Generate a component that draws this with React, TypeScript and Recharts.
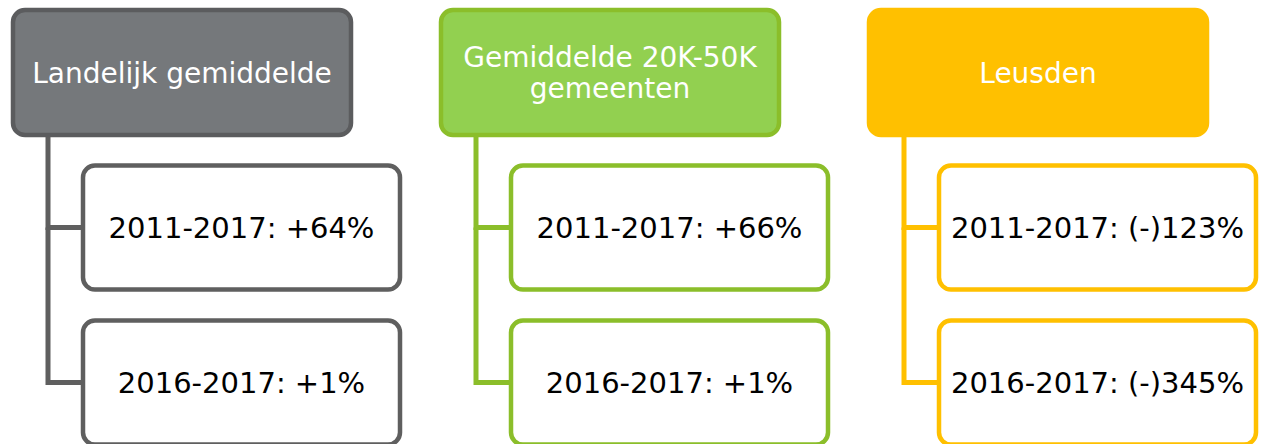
import { ScatterChart, Scatter, XAxis, YAxis } from "recharts";

const groups = ["Landelijk gemiddelde", "Gemiddelde 20K-50K gemeenten", "Leusden"];
const periods = ["2011-2017", "2016-2017"];
const change2011_2017 = ["+64%", "+66%", "(-)123%"];
const change2016_2017 = ["+1%", "+1%", "(-)345%"];

const FONT = "'DejaVu Sans', Verdana, sans-serif";

// per-group colours: header fill, header border, child border/connector
const palette = [
  { fill: "#75787B", border: "#5B5C5E", line: "#5F5F5F" },
  { fill: "#92D050", border: "#8BBE2A", line: "#8BBE2A" },
  { fill: "#FFC000", border: "#FFC000", line: "#FFC000" },
];

const headerData = groups.map((name, i) => ({ col: i, row: 0, group: i, label: name }));
const childData = groups.flatMap((_, i) =>
  [change2011_2017[i], change2016_2017[i]].map((v, j) => ({
    col: i,
    row: j + 1,
    group: i,
    label: `${periods[j]}: ${v}`,
  }))
);

// layout (px)
const ROW_STEP = 155;
const HEAD_W = 338;
const HEAD_H = 125;
const CHILD_LEFT = -101;
const CHILD_W = 317;
const CHILD_H = 124;
const LINE_X = -134;

let ctx: CanvasRenderingContext2D | null = null;
function wrap(text: string, maxWidth: number, fontSize: number) {
  if (!ctx) ctx = document.createElement("canvas").getContext("2d");
  if (!ctx) return [text];
  ctx.font = `${fontSize}px ${FONT}`;
  const lines: string[] = [];
  let cur = "";
  text.split(" ").forEach((w) => {
    const test = cur ? cur + " " + w : w;
    if (cur && ctx!.measureText(test).width > maxWidth) {
      lines.push(cur);
      cur = w;
    } else {
      cur = test;
    }
  });
  if (cur) lines.push(cur);
  return lines;
}

function HeaderNode(props: any) {
  const { cx, cy, payload } = props;
  const c = palette[payload.group];
  const lines = wrap(payload.label, 320, 28);
  const lh = 31;
  const y0 = cy - ((lines.length - 1) * lh) / 2;
  return (
    <g>
      <rect
        x={cx - HEAD_W / 2}
        y={cy - HEAD_H / 2}
        width={HEAD_W}
        height={HEAD_H}
        rx={12}
        fill={c.fill}
        stroke={c.border}
        strokeWidth={4.5}
      />
      <text textAnchor="middle" fill="#ffffff" fontSize={28} fontFamily={FONT} dominantBaseline="central">
        {lines.map((l, k) => (
          <tspan key={k} x={cx} y={y0 + k * lh}>
            {l}
          </tspan>
        ))}
      </text>
    </g>
  );
}

function ChildNode(props: any) {
  const { cx, cy, payload } = props;
  const c = palette[payload.group];
  const left = cx + CHILD_LEFT;
  const lx = cx + LINE_X;
  return (
    <g>
      <path
        d={`M${lx},${cy - ROW_STEP} V${cy} H${left + 2}`}
        fill="none"
        stroke={c.line}
        strokeWidth={5}
        strokeLinejoin="miter"
      />
      <rect
        x={left + 2}
        y={cy - CHILD_H / 2}
        width={CHILD_W}
        height={CHILD_H}
        rx={12}
        fill="#ffffff"
        stroke={c.line}
        strokeWidth={4.5}
      />
      <text
        x={left + 2 + CHILD_W / 2}
        y={cy}
        textAnchor="middle"
        dominantBaseline="central"
        fontSize={29}
        fontFamily={FONT}
        fill="#000000"
      >
        {payload.label}
      </text>
    </g>
  );
}

export default function App() {
  return (
    <div style={{ position: "absolute", left: 0, top: 0, background: "#fff" }}>
      <ScatterChart width={1271} height={444} margin={{ top: -5, right: 19, bottom: -16, left: -32 }}>
        <XAxis type="number" dataKey="col" domain={[-0.5, 2.5]} hide />
        <YAxis type="number" dataKey="row" domain={[-0.5, 2.5]} reversed hide />
        <Scatter data={childData} shape={ChildNode} isAnimationActive={false} />
        <Scatter data={headerData} shape={HeaderNode} isAnimationActive={false} />
      </ScatterChart>
    </div>
  );
}
